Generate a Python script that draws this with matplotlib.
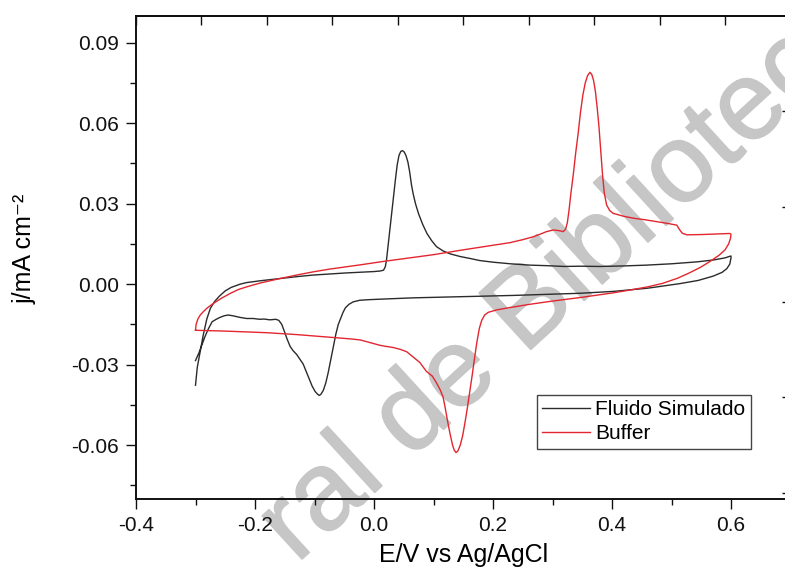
import matplotlib
matplotlib.use("Agg")
import matplotlib.pyplot as plt
import matplotlib.patheffects as pe
from matplotlib.ticker import MultipleLocator, FormatStrFormatter

plt.rcParams['font.family'] = ['Liberation Sans', 'DejaVu Sans']
plt.rcParams['axes.unicode_minus'] = False

# Cyclic voltammograms: potential E (V vs Ag/AgCl) and current density j (mA cm^-2)
E_fluido = [
    -0.300, -0.297, -0.292, -0.287, -0.281, -0.275, -0.268, -0.260, -0.250, -0.240,
    -0.225, -0.214, -0.190, -0.158, -0.130, -0.102, -0.075, -0.046, -0.020, 0.000,
    0.010, 0.016, 0.019, 0.021, 0.024, 0.027, 0.030, 0.033, 0.036, 0.039,
    0.042, 0.045, 0.048, 0.051, 0.054, 0.057, 0.060, 0.063, 0.066, 0.070,
    0.075, 0.082, 0.089, 0.097, 0.105, 0.116, 0.128, 0.145, 0.161, 0.178,
    0.200, 0.229, 0.262, 0.290, 0.320, 0.346, 0.380, 0.420, 0.458, 0.500,
    0.542, 0.570, 0.590, 0.598, 0.600,
    0.600, 0.598, 0.593, 0.585, 0.570, 0.545, 0.514, 0.460, 0.402, 0.346,
    0.290, 0.234, 0.178, 0.122, 0.066, 0.030, 0.010, -0.010, -0.024, -0.035,
    -0.042, -0.048, -0.052, -0.056, -0.060, -0.064, -0.068, -0.072, -0.077, -0.081,
    -0.085, -0.089, -0.092, -0.095, -0.099, -0.104, -0.108, -0.113, -0.119, -0.125,
    -0.130, -0.136, -0.141, -0.146, -0.150, -0.155, -0.160, -0.165, -0.175, -0.185,
    -0.192, -0.203, -0.214, -0.225, -0.237, -0.245, -0.252, -0.260, -0.266, -0.272,
    -0.278, -0.284, -0.289, -0.294, -0.298, -0.300,
]
j_fluido = [
    -0.0377, -0.0310, -0.0250, -0.0190, -0.0130, -0.0090, -0.0065, -0.0045, -0.0025, -0.0012,
    0.0000, 0.0006, 0.0013, 0.0021, 0.0028, 0.0034, 0.0038, 0.0042, 0.0045, 0.0047,
    0.0049, 0.0052, 0.0065, 0.0090, 0.0150, 0.0210, 0.0270, 0.0330, 0.0390, 0.0445,
    0.0480, 0.0495, 0.0498, 0.0492, 0.0478, 0.0455, 0.0418, 0.0370, 0.0335, 0.0298,
    0.0262, 0.0222, 0.0189, 0.0162, 0.0140, 0.0124, 0.0113, 0.0103, 0.0096, 0.0088,
    0.0082, 0.0076, 0.0071, 0.0069, 0.0066, 0.0067, 0.0066, 0.0068, 0.0071, 0.0076,
    0.0083, 0.0090, 0.0098, 0.0104, 0.0105,
    0.0098, 0.0075, 0.0058, 0.0044, 0.0030, 0.0014, 0.0002, -0.0015, -0.0027, -0.0034,
    -0.0038, -0.0042, -0.0045, -0.0048, -0.0051, -0.0054, -0.0056, -0.0058, -0.0060, -0.0066,
    -0.0075, -0.0088, -0.0105, -0.0128, -0.0150, -0.0185, -0.0230, -0.0275, -0.0330, -0.0368,
    -0.0395, -0.0410, -0.0415, -0.0410, -0.0400, -0.0380, -0.0358, -0.0330, -0.0298, -0.0278,
    -0.0262, -0.0248, -0.0232, -0.0205, -0.0180, -0.0150, -0.0135, -0.0131, -0.0133, -0.0130,
    -0.0131, -0.0128, -0.0128, -0.0124, -0.0118, -0.0115, -0.0118, -0.0125, -0.0132, -0.0140,
    -0.0165, -0.0195, -0.0225, -0.0255, -0.0275, -0.0285,
]

E_buffer = [
    -0.300, -0.299, -0.296, -0.292, -0.287, -0.280, -0.270, -0.256, -0.242, -0.228,
    -0.214, -0.190, -0.158, -0.130, -0.102, -0.075, -0.046, -0.020, 0.010, 0.050,
    0.100, 0.150, 0.200, 0.229, 0.250, 0.268, 0.280, 0.290, 0.301, 0.310,
    0.318, 0.322, 0.325, 0.328, 0.331, 0.335, 0.339, 0.343, 0.347, 0.351,
    0.355, 0.359, 0.363, 0.366, 0.369, 0.372, 0.375, 0.378, 0.381, 0.384,
    0.387, 0.391, 0.396, 0.402, 0.420, 0.436, 0.456, 0.475, 0.495, 0.509,
    0.513, 0.518, 0.526, 0.550, 0.576, 0.598, 0.600,
    0.599, 0.596, 0.590, 0.580, 0.565, 0.548, 0.530, 0.510, 0.485, 0.460,
    0.430, 0.400, 0.346, 0.300, 0.262, 0.229, 0.206, 0.192, 0.186, 0.181,
    0.177, 0.173, 0.169, 0.165, 0.161, 0.157, 0.153, 0.149, 0.145, 0.141,
    0.138, 0.135, 0.132, 0.128, 0.124, 0.120, 0.116, 0.111, 0.105, 0.098,
    0.088, 0.077, 0.066, 0.055, 0.044, 0.032, 0.020, 0.010, 0.000, -0.012,
    -0.023, -0.040, -0.057, -0.080, -0.102, -0.130, -0.158, -0.180, -0.214, -0.250,
    -0.280, -0.300,
]
j_buffer = [
    -0.0172, -0.0150, -0.0130, -0.0115, -0.0103, -0.0088, -0.0072, -0.0052, -0.0035, -0.0020,
    -0.0010, 0.0005, 0.0021, 0.0034, 0.0046, 0.0056, 0.0065, 0.0073, 0.0083, 0.0095,
    0.0110, 0.0128, 0.0145, 0.0155, 0.0166, 0.0177, 0.0187, 0.0196, 0.0202, 0.0200,
    0.0196, 0.0205, 0.0230, 0.0280, 0.0340, 0.0410, 0.0490, 0.0560, 0.0640, 0.0705,
    0.0750, 0.0778, 0.0790, 0.0782, 0.0760, 0.0720, 0.0660, 0.0590, 0.0500, 0.0410,
    0.0340, 0.0295, 0.0275, 0.0264, 0.0253, 0.0246, 0.0240, 0.0233, 0.0226, 0.0220,
    0.0205, 0.0190, 0.0184, 0.0185, 0.0187, 0.0189, 0.0186,
    0.0170, 0.0150, 0.0128, 0.0108, 0.0085, 0.0062, 0.0042, 0.0022, 0.0003, -0.0010,
    -0.0022, -0.0033, -0.0050, -0.0063, -0.0075, -0.0087, -0.0096, -0.0105, -0.0115, -0.0135,
    -0.0165, -0.0215, -0.0275, -0.0340, -0.0400, -0.0460, -0.0515, -0.0565, -0.0600, -0.0622,
    -0.0628, -0.0620, -0.0600, -0.0560, -0.0515, -0.0465, -0.0420, -0.0393, -0.0368, -0.0343,
    -0.0325, -0.0292, -0.0272, -0.0252, -0.0243, -0.0236, -0.0232, -0.0228, -0.0222, -0.0215,
    -0.0208, -0.0204, -0.0201, -0.0197, -0.0193, -0.0188, -0.0184, -0.0181, -0.0178, -0.0175,
    -0.0173, -0.0172,
]

series_labels = ["Fluido Simulado", "Buffer"]
x_label = "E/V vs Ag/AgCl"
y_label = "j/mA cm\u207b\u00b2"

fig = plt.figure(figsize=(7.85, 5.76), dpi=100, facecolor="white")
ax = fig.add_axes([136 / 785, 77.3 / 576, 654.5 / 785, 482.7 / 576])
ax.set_facecolor("none")

# faint diagonal watermark behind everything
wm = fig.text(565 / 785, 1 - 318 / 576, "ral de Bibliotec", fontsize=80,
              color="#c6c6c6", rotation=42.5, rotation_mode="anchor", ha="center",
              va="baseline", zorder=-5)
wm.set_path_effects([pe.withStroke(linewidth=1.2, foreground="#c6c6c6")])

ax.plot(E_fluido, j_fluido, color="#2b2b2b", lw=1.0, label=series_labels[0], zorder=3)
ax.plot(E_buffer, j_buffer, color="#e3262f", lw=1.0, label=series_labels[1], zorder=3)

ax.set_xlim(-0.4, 0.7)
ax.set_ylim(-0.08, 0.10)

ax.xaxis.set_major_locator(MultipleLocator(0.2))
ax.xaxis.set_minor_locator(MultipleLocator(0.1))
ax.xaxis.set_major_formatter(FormatStrFormatter("%.1f"))
ax.yaxis.set_major_locator(MultipleLocator(0.03))
ax.yaxis.set_minor_locator(MultipleLocator(0.015))
ax.yaxis.set_major_formatter(FormatStrFormatter("%.2f"))

ax.tick_params(which="both", direction="out", width=1.0, labelsize=15,
               top=False, right=False, colors="#111111")
ax.tick_params(which="major", length=7.5, pad=5)
ax.tick_params(which="minor", length=4.3)
for s in ax.spines.values():
    s.set_linewidth(1.4)
    s.set_color("#111111")

# independent frame axes on top and right with inward ticks
top = ax.secondary_xaxis("top", functions=(lambda e: (e + 0.4) / 0.11,
                                           lambda u: u * 0.11 - 0.4))
top.xaxis.set_major_locator(MultipleLocator(1))
top.tick_params(direction="in", length=6.5, width=1.0, labeltop=False, colors="#111111")
top.spines["top"].set_linewidth(1.4)

right = ax.secondary_yaxis("right", functions=(lambda y: (y + 0.0422) / 0.03556,
                                               lambda v: v * 0.03556 - 0.0422))
right.yaxis.set_major_locator(MultipleLocator(1))
right.tick_params(direction="in", length=6.5, width=1.0, labelright=False, colors="#111111")

ax.set_xlabel(x_label, fontsize=18, labelpad=6)
ax.set_ylabel(y_label, fontsize=18)
ax.yaxis.set_label_coords(-0.152, 0.517)

leg = ax.legend(loc="upper left", bbox_to_anchor=(0.6127, 0.2148), borderaxespad=0,
                fontsize=15, frameon=True, fancybox=False, framealpha=1,
                edgecolor="#444444", handlelength=2.3, handletextpad=0.25,
                labelspacing=0.25, borderpad=0.25)
leg.get_frame().set_linewidth(1.0)

fig.savefig("out.png", dpi=100, facecolor="white")
